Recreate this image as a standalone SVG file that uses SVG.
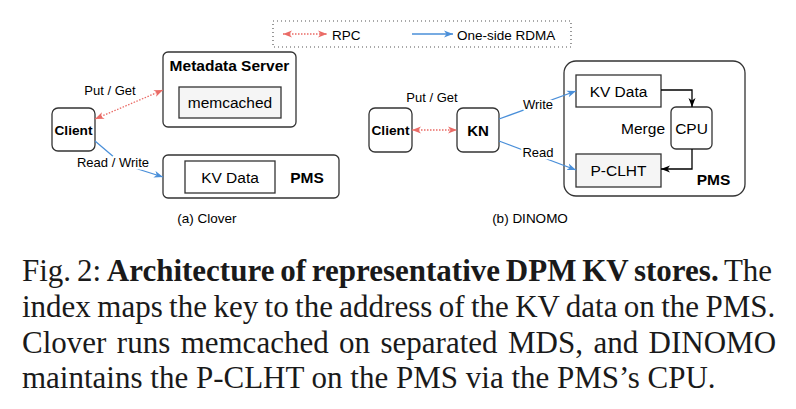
<svg xmlns="http://www.w3.org/2000/svg" width="796" height="409" viewBox="0 0 796 409">
<style>
.box{fill:#fff;stroke:#333;stroke-width:1.3}
.grey{fill:#f5f5f5;stroke:#333;stroke-width:1.3}
.t{font-family:"Liberation Sans",Arial,sans-serif;fill:#000}
.lbl{font-family:"Liberation Sans",Arial,sans-serif;font-size:13px;fill:#000;text-anchor:middle}
.halo{stroke:#fff;stroke-width:5;paint-order:stroke;stroke-linejoin:round}
.rpc{fill:none;stroke:#EA6B66;stroke-width:1.3;stroke-dasharray:1.5 1.5}
.rdma{fill:none;stroke:#4A8FD9;stroke-width:1.3}
.blk{fill:none;stroke:#000;stroke-width:1.3}
.cap{font-family:"Liberation Serif","Times New Roman",serif;font-size:31px;fill:#1a1a1a}
</style>
<defs>
<marker id="ar" markerUnits="userSpaceOnUse" markerWidth="10" markerHeight="8" refX="9" refY="4" orient="auto-start-reverse"><path d="M0,0.5 L9,4 L0,7.5 L2.5,4 Z" fill="#EA6B66"/></marker>
<marker id="ab" markerUnits="userSpaceOnUse" markerWidth="10" markerHeight="8" refX="9" refY="4" orient="auto"><path d="M0,0.5 L9,4 L0,7.5 L2.5,4 Z" fill="#4A8FD9"/></marker>
<marker id="ak" markerUnits="userSpaceOnUse" markerWidth="10" markerHeight="8" refX="9" refY="4" orient="auto"><path d="M0,0.5 L9,4 L0,7.5 L2.5,4 Z" fill="#000"/></marker>
</defs>

<g id="legend">
<rect x="273" y="21" width="298" height="26" fill="none" stroke="#555" stroke-width="1.2" stroke-dasharray="1 3"/>
<line x1="283" y1="34" x2="327" y2="34" class="rpc" marker-start="url(#ar)" marker-end="url(#ar)"/>
<text x="332" y="39.5" class="t" font-size="13.5">RPC</text>
<line x1="412" y1="34" x2="453" y2="34" class="rdma" marker-end="url(#ab)"/>
<text x="457" y="39.5" class="t" font-size="13.5">One-side RDMA</text>
</g>

<g id="clover-mds">
<rect x="163" y="52" width="133" height="75" rx="5" class="box"/>
<text x="229.5" y="71" class="t" font-size="15.5" font-weight="bold" text-anchor="middle">Metadata Server</text>
</g>
<g id="clover-memcached">
<rect x="179" y="87" width="102" height="31" class="grey"/>
<text x="230" y="108" class="t" font-size="15.5" text-anchor="middle">memcached</text>
</g>
<g id="clover-client">
<rect x="52" y="108" width="43" height="43" rx="6" class="box"/>
<text x="73.5" y="135" class="t" font-size="13.7" font-weight="bold" text-anchor="middle">Client</text>
</g>
<g id="clover-pms">
<rect x="163" y="155" width="176" height="43" rx="5" class="box"/>
<text x="307" y="183" class="t" font-size="15.5" font-weight="bold" text-anchor="middle">PMS</text>
</g>
<g id="clover-kvdata">
<rect x="185" y="161" width="90" height="32" class="box"/>
<text x="230" y="183" class="t" font-size="15.5" text-anchor="middle">KV Data</text>
</g>

<g id="dinomo-client">
<rect x="369" y="108" width="43" height="44" rx="6" class="box"/>
<text x="390.5" y="135" class="t" font-size="13.7" font-weight="bold" text-anchor="middle">Client</text>
</g>
<g id="dinomo-kn">
<rect x="457" y="108" width="42" height="44" rx="6" class="box"/>
<text x="478" y="136" class="t" font-size="15" font-weight="bold" text-anchor="middle">KN</text>
</g>
<g id="dinomo-pms">
<rect x="564" y="61" width="181" height="135" rx="12" class="box"/>
<text x="713.5" y="185" class="t" font-size="15.5" font-weight="bold" text-anchor="middle">PMS</text>
</g>
<g id="dinomo-kvdata">
<rect x="576" y="75" width="85" height="32" class="box"/>
<text x="618.5" y="97" class="t" font-size="15.5" text-anchor="middle">KV Data</text>
</g>
<g id="dinomo-cpu">
<rect x="671" y="107" width="41" height="42" rx="5" class="box"/>
<text x="691.5" y="134" class="t" font-size="15.5" text-anchor="middle">CPU</text>
</g>
<g id="dinomo-pclht">
<rect x="576" y="154" width="85" height="33" class="grey"/>
<text x="618.5" y="176" class="t" font-size="15.5" text-anchor="middle">P-CLHT</text>
</g>

<g id="connectors">
<line x1="95" y1="119" x2="163" y2="90" class="rpc" marker-start="url(#ar)" marker-end="url(#ar)"/>
<path d="M95,141 L122,164 L163,177" class="rdma" marker-end="url(#ab)"/>
<line x1="412" y1="130" x2="457" y2="130" class="rpc" marker-start="url(#ar)" marker-end="url(#ar)"/>
<path d="M499,119 L576,91" class="rdma" marker-end="url(#ab)"/>
<path d="M499,141 L576,170" class="rdma" marker-end="url(#ab)"/>
<path d="M661,90 H692 V107" class="blk" marker-end="url(#ak)"/>
<path d="M692,149 V169 H661" class="blk" marker-end="url(#ak)"/>
<text x="110" y="95" class="lbl" font-size="13.5">Put / Get</text>
<text x="113" y="167" class="lbl halo">Read / Write</text>
<text x="432" y="102" class="lbl" font-size="13.5">Put / Get</text>
<text x="538" y="109" class="lbl halo">Write</text>
<text x="538" y="157" class="lbl halo">Read</text>
<text x="665" y="134" class="t" font-size="15.5" text-anchor="end">Merge</text>
</g>

<g id="subcaptions">
<text x="207" y="223" class="t" font-size="13.5" text-anchor="middle">(a) Clover</text>
<text x="530" y="223" class="t" font-size="13.5" text-anchor="middle">(b) DINOMO</text>
</g>

<g id="caption">
<text x="22" y="281" class="cap" word-spacing="-1.95">Fig. 2: <tspan font-weight="bold">Architecture of representative DPM KV stores.</tspan> The</text>
<text x="22" y="317" class="cap" word-spacing="-1.35">index maps the key to the address of the KV data on the PMS.</text>
<text x="22" y="352.5" class="cap" word-spacing="2.69">Clover runs memcached on separated MDS, and DINOMO</text>
<text x="22" y="388" class="cap">maintains the P-CLHT on the PMS via the PMS’s CPU.</text>
</g>
</svg>
